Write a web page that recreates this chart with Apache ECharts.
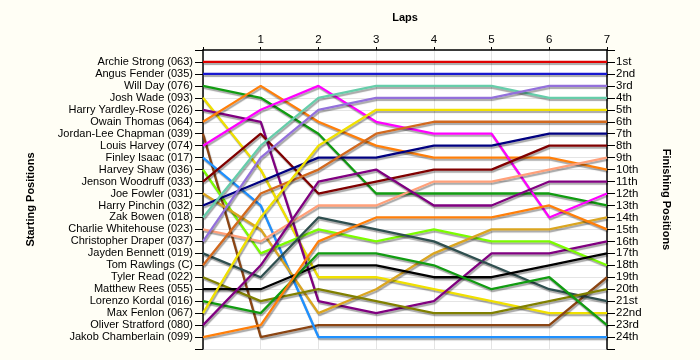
<!DOCTYPE html>
<html><head><meta charset="utf-8">
<script src="https://cdn.jsdelivr.net/npm/echarts@6/dist/echarts.min.js"></script>
<style>html,body{margin:0;padding:0;background:#FFFEF5;}#c{width:700px;height:360px;}</style>
</head><body><div id="c"></div>
<script>
const laps = [0, 1, 2, 3, 4, 5, 6, 7];
const lapLabels = ['', '1', '2', '3', '4', '5', '6', '7'];
const startNames = ['Archie Strong (063)', 'Angus Fender (035)', 'Will Day (076)', 'Josh Wade (093)', 'Harry Yardley-Rose (026)', 'Owain Thomas (064)', 'Jordan-Lee Chapman (039)', 'Louis Harvey (074)', 'Finley Isaac (017)', 'Harvey Shaw (036)', 'Jenson Woodruff (033)', 'Joe Fowler (031)', 'Harry Pinchin (032)', 'Zak Bowen (018)', 'Charlie Whitehouse (023)', 'Christopher Draper (037)', 'Jayden Bennett (019)', 'Tom Rawlings (C)', 'Tyler Read (022)', 'Matthew Rees (055)', 'Lorenzo Kordal (016)', 'Max Fenlon (067)', 'Oliver Stratford (080)', 'Jakob Chamberlain (099)'];
const finishLabels = ['1st', '2nd', '3rd', '4th', '5th', '6th', '7th', '8th', '9th', '10th', '11th', '12th', '13th', '14th', '15th', '16th', '17th', '18th', '19th', '20th', '21st', '22nd', '23rd', '24th'];

const archieStrong      = [1, 1, 1, 1, 1, 1, 1, 1];
const angusFender       = [2, 2, 2, 2, 2, 2, 2, 2];
const willDay           = [3, 4, 7, 12, 12, 12, 12, 13];
const joshWade          = [4, 10, 19, 19, 20, 21, 22, 22];
const harryYardleyRose  = [5, 6, 21, 22, 21, 17, 17, 16];
const owainThomas       = [6, 3, 6, 8, 9, 9, 9, 10];
const jordanLeeChapman  = [7, 24, 23, 23, 23, 23, 23, 19];
const louisHarvey       = [8, 5, 3, 6, 7, 7, 14, 12];
const finleyIsaac       = [9, 13, 24, 24, 24, 24, 24, 24];
const harveyShaw        = [10, 17, 15, 16, 15, 16, 16, 18];
const jensonWoodruff    = [11, 7, 12, 11, 10, 10, 8, 8];
const joeFowler         = [12, 15, 22, 20, 17, 15, 15, 14];
const harryPinchin      = [13, 11, 9, 9, 8, 8, 7, 7];
const zakBowen          = [14, 8, 4, 3, 3, 3, 4, 4];
const charlieWhitehouse = [15, 16, 13, 13, 11, 11, 10, 9];
const christopherDraper = [16, 9, 5, 4, 4, 4, 3, 3];
const jaydenBennett     = [17, 19, 14, 15, 16, 18, 20, 21];
const tomRawlings       = [18, 12, 10, 7, 6, 6, 6, 6];
const tylerRead         = [19, 21, 20, 21, 22, 22, 21, 20];
const matthewRees       = [20, 20, 18, 18, 19, 19, 18, 17];
const lorenzoKordal     = [21, 22, 17, 17, 18, 20, 19, 23];
const maxFenlon         = [22, 14, 8, 5, 5, 5, 5, 5];
const oliverStratford   = [23, 18, 11, 10, 13, 13, 11, 11];
const jakobChamberlain  = [24, 23, 16, 14, 14, 14, 13, 15];

const riderPositions = [archieStrong, angusFender, willDay, joshWade, harryYardleyRose, owainThomas, jordanLeeChapman, louisHarvey, finleyIsaac, harveyShaw, jensonWoodruff, joeFowler, harryPinchin, zakBowen, charlieWhitehouse, christopherDraper, jaydenBennett, tomRawlings, tylerRead, matthewRees, lorenzoKordal, maxFenlon, oliverStratford, jakobChamberlain];
const riderColors = ['#E00000', '#1818D0', '#119C11', '#F0E000', '#800080', '#FF7F0A', '#8B4513', '#FF00FF', '#1E90FF', '#7CFC00', '#800000', '#DAA520', '#000080', '#66CDAA', '#FFA07A', '#9370DB', '#2F4F4F', '#D2691E', '#808000', '#000000', '#119C11', '#F0E000', '#800080', '#FF7F0A'];

const font = 'Arial, "Liberation Sans", sans-serif';
const chart = echarts.init(document.getElementById('c'), null, {renderer: 'canvas'});

const series = riderPositions.map((pos, i) => ({
  name: startNames[i],
  type: 'line',
  data: laps.map((l, k) => [l, pos[k]]),
  symbol: 'none',
  silent: true,
  animation: false,
  lineStyle: {color: riderColors[i], width: 2.3, shadowColor: 'rgba(0,0,0,0.35)', shadowOffsetX: 1, shadowOffsetY: 2, shadowBlur: 1},
  z: 2
}));

const yCommon = {
  type: 'value', min: 0, max: 25, interval: 1, inverse: true,
  axisLine: {show: true, lineStyle: {color: '#000', width: 1.5}},
  axisTick: {show: true, length: 8, lineStyle: {color: '#000', width: 1}},
  nameLocation: 'middle',
  nameTextStyle: {fontFamily: font, fontSize: 11, fontWeight: 'bold', color: '#000'}
};

chart.setOption({
  backgroundColor: '#FFFEF5',
  animation: false,
  grid: {left: 203, right: 93, top: 50, bottom: 11, show: true, backgroundColor: '#FFFFFF', borderWidth: 0},
  xAxis: {
    type: 'value', min: 0, max: 7, interval: 1, position: 'top',
    name: 'Laps', nameLocation: 'middle', nameGap: 27,
    nameTextStyle: {fontFamily: font, fontSize: 11, fontWeight: 'bold', color: '#000'},
    axisLine: {show: true, lineStyle: {color: '#000', width: 1.5}},
    axisTick: {show: true, length: 3, lineStyle: {color: '#000'}},
    axisLabel: {formatter: v => lapLabels[v] || '', fontFamily: font, fontSize: 11.5, color: '#000', margin: 4},
    splitLine: {show: true, lineStyle: {color: '#E4E4E4', width: 1}}
  },
  yAxis: [
    Object.assign({}, yCommon, {
      position: 'left', name: 'Starting Positions', nameGap: 167, nameRotate: 90,
      axisLabel: {formatter: v => startNames[v - 1] || '', fontFamily: font, fontSize: 11, color: '#000', margin: 10},
      splitLine: {show: true, lineStyle: {color: '#E4E4E4', width: 1}}
    }),
    Object.assign({}, yCommon, {
      position: 'right', name: 'Finishing Positions', nameGap: 54, nameRotate: -90,
      axisLabel: {formatter: v => finishLabels[v - 1] || '', fontFamily: font, fontSize: 11.5, color: '#000', margin: 9},
      splitLine: {show: false}
    })
  ],
  series: series
});
</script></body></html>
